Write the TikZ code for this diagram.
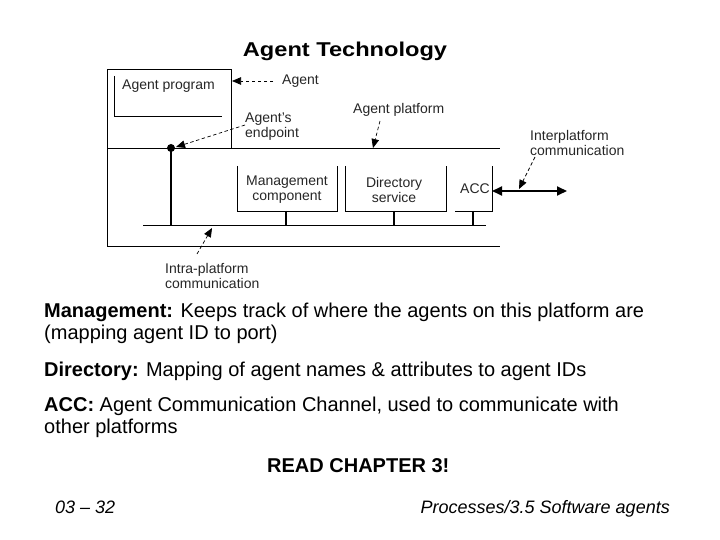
\documentclass[tikz,border=0pt]{standalone}
\usepackage{fontspec}
\setmainfont{Liberation Sans}
\usetikzlibrary{arrows.meta}
\begin{document}
\begin{tikzpicture}[x=1pt,y=-1pt,
  line/.style={line width=0.9pt},
  stub/.style={line width=1.6pt},
  lbl/.style={font=\fontsize{14}{15}\selectfont, inner sep=0pt, text=black!85},
  pointer/.style={line width=0.7pt, dash pattern=on 3.5pt off 2.5pt, -{Triangle[length=9pt,width=7.5pt]}},
  body/.style={anchor=base west, inner sep=0pt, font=\fontsize{20}{24}\selectfont},
  foot/.style={inner sep=0pt, font=\fontsize{18}{20}\selectfont\itshape},
]
\useasboundingbox (0,0) rectangle (720,540);

% title
\node[anchor=base, inner sep=0pt] (title) at (345,57) {\fontsize{20}{24}\selectfont\bfseries\scalebox{1.18}[1]{Agent Technology}};

% agent box and platform
\draw[line] (231,148) -- (231,69) -- (107,69) -- (107,246) -- (500,246);
\draw[line] (107,148) -- (500,148);
\draw[line] (114,76) -- (114,116) -- (222,116);
\node[lbl, anchor=west] (prog) at (122,86) {Agent program};

% bus
\coordinate (busL) at (143,225);
\coordinate (busR) at (486,225);
\draw[line] (busL) -- (busR);

% endpoint
\node[circle, fill=black, inner sep=0pt, minimum size=8pt] (dot) at (171,148) {};
\coordinate (dotbus) at (171,225);
\draw[line width=2.2pt] (dot.center) -- (dotbus);

% management component
\draw[line] (237,166) -- (237,211) -- (337,211) -- (337,166);
\node[lbl, align=center] (mgmtc) at (287,189.5) {Management\\component};
\draw[stub] (286,211) -- (286,225);

% directory service
\draw[line] (345,166) -- (345,211) -- (446,211) -- (446,166);
\node[lbl, align=center] (dirs) at (394,189.5) {Directory\\service};
\draw[stub] (394,211) -- (394,225);

% ACC
\draw[line] (455,211) -- (492,211) -- (492,166);
\node[lbl] (accn) at (475,189) {ACC};
\draw[stub] (473,211) -- (473,225);

% interplatform arrow
\coordinate (accR) at (492,191);
\coordinate (outR) at (567,191);
\draw[line width=1.8pt, {Triangle[length=10pt,width=9pt]}-{Triangle[length=10pt,width=9pt]}] (accR) -- (outR);

% labels
\node[lbl, anchor=west] (agentl) at (282,81) {Agent};
\node[lbl, anchor=west, align=left] (epl) at (245,126.5) {Agent's\\endpoint};
\node[lbl, anchor=west] (platl) at (353,110) {Agent platform};
\node[lbl, anchor=west, align=left] (interl) at (530,142.5) {Interplatform\\communication};
\node[lbl, anchor=west, align=left] (intral) at (165,275.5) {Intra-platform\\communication};

% pointers
\coordinate (a1s) at (273,81); \coordinate (a1e) at (232,81);
\draw[pointer] (a1s) -- (a1e);
\coordinate (a2s) at (245,125); \coordinate (a2e) at (176,147);
\draw[pointer] (a2s) -- (a2e);
\coordinate (a3s) at (380,121); \coordinate (a3e) at (373,148);
\draw[pointer] (a3s) -- (a3e);
\coordinate (a4s) at (535,157); \coordinate (a4e) at (519,189);
\draw[pointer] (a4s) -- (a4e);
\coordinate (a5s) at (197,254); \coordinate (a5e) at (212,228);
\draw[pointer] (a5s) -- (a5e);

% body text
\node[body] (t1) at (44,317) {\textbf{Management:} Keeps track of where the agents on this platform are};
\node[body] (t2) at (44,339) {(mapping agent ID to port)};
\node[body] (t3) at (44,376) {\textbf{Directory:} Mapping of agent names \& attributes to agent IDs};
\node[body] (t4) at (44,411) {\textbf{ACC:} Agent Communication Channel, used to communicate with};
\node[body] (t5) at (44,433) {other platforms};
\node[body] (t6) at (267,472) {\textbf{READ CHAPTER 3!}};

% footer
\node[foot, anchor=base west] (f1) at (55,513) {03 – 32};
\node[foot, anchor=base east] (f2) at (670,513) {Processes/3.5 Software agents};
\end{tikzpicture}
\end{document}
